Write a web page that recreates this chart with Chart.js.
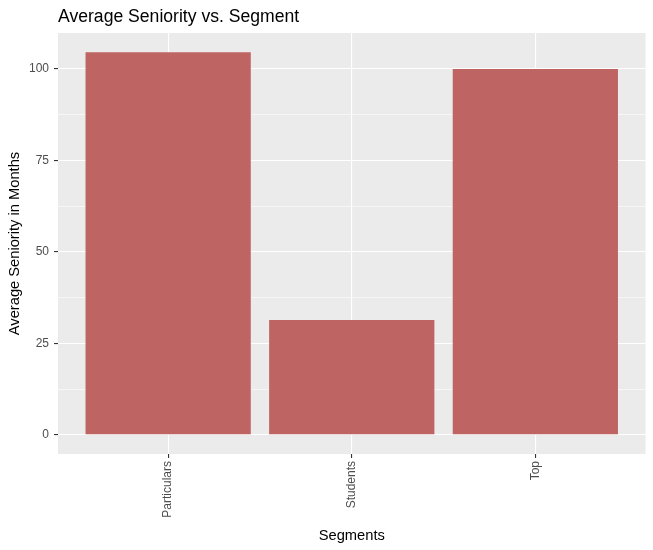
<!DOCTYPE html>
<html>
<head>
<meta charset="utf-8">
<script src="https://cdn.jsdelivr.net/npm/chart.js@4"></script>
<style>
  html, body { margin: 0; padding: 0; background: #fff; }
  #wrap { width: 653px; height: 550px; }
</style>
</head>
<body>
<div id="wrap"><canvas id="myChart" width="653" height="550"></canvas></div>
<script>
// data
const segments = ['Particulars', 'Students', 'Top']
const seniority = [104.6, 31.4, 100.0]
const yTicks = [0, 25, 50, 75, 100]
const yMinorTicks = [12.5, 37.5, 62.5, 87.5]

const chartTitle = 'Average Seniority vs. Segment'
const xTitle = 'Segments'
const yTitle = 'Average Seniority in Months'

const barColor = '#BE6462'
const panelColor = '#EBEBEB'
const fontFamily = '"Liberation Sans", Arial, sans-serif'

// ggplot style expansion of the axes
const yMaxData = Math.max(...seniority)
const yMin = -0.05 * yMaxData
const yMax = yMaxData * 1.05

const panelPlugin = {
    id: 'panel',
    beforeDraw(chart) {
        const { ctx, chartArea: a } = chart
        ctx.save()
        ctx.fillStyle = panelColor
        ctx.fillRect(a.left, a.top, a.right - a.left, a.bottom - a.top)
        ctx.restore()
    },
    afterDraw(chart) {
        const { ctx, chartArea: a } = chart
        ctx.save()
        ctx.fillStyle = '#000'
        // title
        ctx.font = '17.6px ' + fontFamily
        ctx.textAlign = 'left'
        ctx.textBaseline = 'alphabetic'
        ctx.fillText(chartTitle, a.left, 22)
        // x axis title
        ctx.font = '14.7px ' + fontFamily
        ctx.textAlign = 'center'
        ctx.fillText(xTitle, (a.left + a.right) / 2, 540)
        // y axis title
        ctx.translate(19, (a.top + a.bottom) / 2)
        ctx.rotate(-Math.PI / 2)
        ctx.fillText(yTitle, 0, 0)
        ctx.restore()
    }
}

const ctx = document.getElementById('myChart').getContext('2d')
const myChart = new Chart(ctx, {
    type: 'bar',
    data: {
        datasets: [{
            data: segments.map((s, i) => ({ x: i + 1, y: seniority[i] })),
            backgroundColor: barColor,
            borderWidth: 0,
            inflateAmount: 0,
            barPercentage: 0.9,
            categoryPercentage: 1.0,
        }]
    },
    options: {
        responsive: false,
        animation: false,
        layout: {
            padding: { top: 33, right: 7.5, left: 0, bottom: 0 }
        },
        plugins: {
            legend: { display: false },
            title: { display: false },
            tooltip: { enabled: false },
        },
        scales: {
            x: {
                type: 'linear',
                min: 0.4,
                max: 3.6,
                offset: false,
                afterBuildTicks: (scale) => {
                    scale.ticks = segments.map((s, i) => ({ value: i + 1 }))
                },
                afterFit: (scale) => { scale.height = 96 },
                ticks: {
                    autoSkip: false,
                    minRotation: 90,
                    maxRotation: 90,
                    padding: 3,
                    color: '#4D4D4D',
                    font: { family: fontFamily, size: 12 },
                    callback: (v) => segments[Math.round(v) - 1] || '',
                },
                grid: {
                    offset: false,
                    color: '#FFFFFF',
                    lineWidth: 1.1,
                    tickColor: '#333333',
                    tickLength: 4,
                    drawTicks: true,
                },
                border: { display: false },
            },
            y: {
                min: yMin,
                max: yMax,
                afterBuildTicks: (scale) => {
                    scale.ticks = yTicks.concat(yMinorTicks).map(v => ({ value: v }))
                },
                afterFit: (scale) => { scale.width = 58 },
                ticks: {
                    autoSkip: false,
                    padding: 5,
                    color: '#4D4D4D',
                    font: { family: fontFamily, size: 12 },
                    callback: (v) => yTicks.includes(v) ? String(v) : '',
                },
                grid: {
                    color: '#FFFFFF',
                    lineWidth: (c) => yTicks.includes(c.tick.value) ? 1.1 : 0.55,
                    tickColor: (c) => yTicks.includes(c.tick.value) ? '#333333' : 'rgba(0,0,0,0)',
                    tickLength: 4,
                    drawTicks: true,
                },
                border: { display: false },
            }
        }
    },
    plugins: [panelPlugin]
})
</script>
</body>
</html>
